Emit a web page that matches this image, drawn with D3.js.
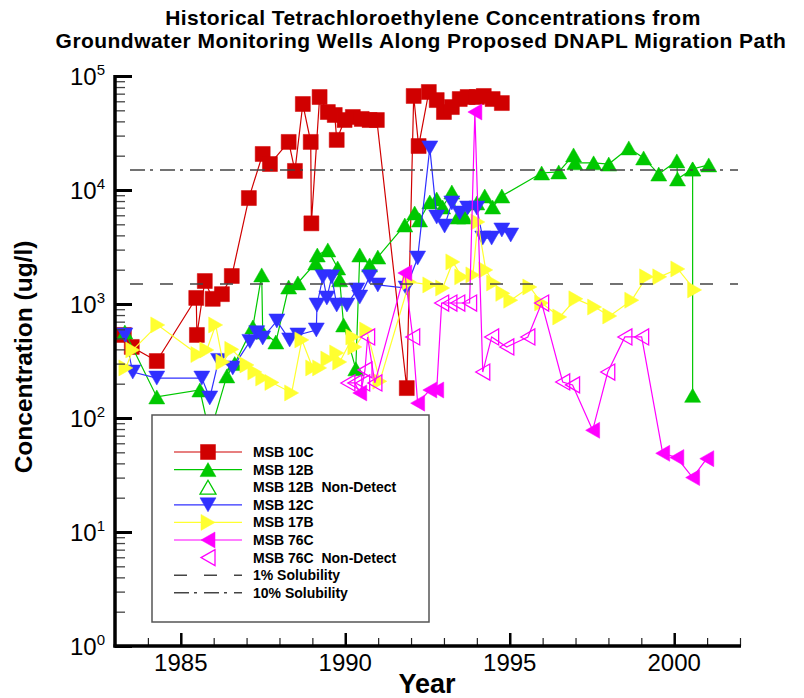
<!DOCTYPE html>
<html>
<head>
<meta charset="utf-8">
<script src="https://cdn.jsdelivr.net/npm/d3@7"></script>
<style>
  body { margin: 0; background: #fff; }
  svg { display: block; font-family: Arial, "Liberation Sans", sans-serif; }
</style>
</head>
<body>
<svg id="chart" width="804" height="698"></svg>
<script>
// ---------- Data: [year, concentration (ug/l)] ----------
const msb10c = [
  [1983.27, 535], [1983.51, 420], [1984.27, 316], [1985.47, 1130], [1985.49, 535],
  [1985.73, 1590], [1985.97, 1110], [1986.25, 1220], [1986.55, 1760], [1987.07, 8500],
  [1987.49, 20700], [1987.71, 16900], [1988.28, 26400], [1988.47, 14700], [1988.71, 56800],
  [1988.95, 26400], [1988.97, 5100], [1989.22, 65400], [1989.47, 48300], [1989.68, 45500],
  [1989.74, 27500], [1989.98, 41100], [1990.23, 43700], [1990.50, 42000], [1990.74, 41100],
  [1990.96, 41100], [1991.87, 183], [1992.08, 66800], [1992.23, 24300], [1992.54, 72400],
  [1992.78, 61500], [1993.00, 48300], [1993.24, 53400], [1993.48, 62800], [1993.72, 65400],
  [1994.00, 65400], [1994.21, 66800], [1994.48, 62800], [1994.76, 57900]
];

// 2000.56: two readings on the same date (line returns to the high value)
const msb12b = [
  [1983.30, 568], [1984.27, 153], [1985.58, 176], [1986.40, 234], [1986.64, 300],
  [1987.19, 629], [1987.46, 1800], [1987.49, 568], [1987.89, 464], [1988.28, 1410],
  [1988.56, 1530], [1989.10, 2290], [1989.15, 2690], [1989.47, 2980], [1989.77, 2070],
  [1989.83, 1630], [1989.95, 655], [1990.32, 270], [1990.44, 2690], [1990.74, 2200],
  [1990.99, 2580], [1991.81, 4930], [1992.11, 6280], [1992.26, 5460], [1992.57, 7850],
  [1992.78, 8340], [1992.96, 7090], [1993.24, 9600], [1993.42, 5790], [1993.63, 5790],
  [1994.00, 7700], [1994.24, 8860], [1994.48, 7090], [1994.76, 8860], [1995.97, 14100],
  [1996.49, 14400], [1996.94, 20300], [1996.98, 17300], [1997.55, 17300], [1998.01, 16900],
  [1998.62, 23400], [1999.07, 19100], [1999.53, 13800], [2000.08, 18000], [2000.10, 12500],
  [2000.56, 15300], [2000.56, 158], [2000.56, 15300], [2001.05, 16600]
];
const msb12bNonDetect = [[1985.88, 72]];

const msb12c = [
  [1983.30, 535], [1983.54, 253], [1984.27, 224], [1985.64, 224], [1985.88, 150],
  [1986.15, 320], [1986.58, 275], [1987.10, 470], [1987.31, 560], [1987.49, 504],
  [1987.92, 710], [1988.31, 484], [1988.56, 535], [1989.12, 592], [1989.14, 980],
  [1989.32, 1730], [1989.44, 1130], [1989.59, 1730], [1989.74, 980], [1990.05, 980],
  [1990.35, 1330], [1990.44, 1150], [1990.74, 1730], [1990.99, 1470], [1991.85, 1380],
  [1992.20, 2530], [1992.57, 23400], [1992.78, 5790], [1993.02, 4830], [1993.24, 7700],
  [1993.48, 6280], [1993.72, 6950], [1994.00, 6950], [1994.18, 3790], [1994.45, 3790],
  [1994.76, 4460], [1995.03, 4030]
];

const msb17b = [
  [1983.33, 275], [1983.54, 395], [1984.30, 655], [1985.52, 360], [1985.79, 395],
  [1986.06, 655], [1986.28, 310], [1986.55, 400], [1987.01, 292], [1987.25, 253],
  [1987.49, 224], [1987.77, 205], [1988.37, 166], [1988.68, 484], [1989.01, 275],
  [1989.22, 275], [1989.47, 329], [1989.74, 372], [1989.83, 310], [1990.23, 514],
  [1990.29, 420], [1990.65, 592], [1991.05, 210], [1991.95, 1560], [1992.57, 1470],
  [1992.96, 1380], [1993.27, 2340], [1993.54, 1730], [1993.88, 1800], [1994.03, 5240],
  [1994.27, 1990], [1994.51, 1530], [1994.79, 1240], [1995.03, 1080], [1995.61, 1410],
  [1995.97, 1020], [1996.52, 770], [1997.01, 1110], [1997.58, 940], [1998.04, 785],
  [1998.71, 1080], [1999.16, 1730], [1999.56, 1730], [2000.11, 2030], [2000.62, 1330]
];

const msb76c = [
  [1990.44, 166], [1991.81, 1870], [1992.20, 135], [1992.57, 176], [1992.78, 176],
  [1993.94, 48300], [1997.52, 78], [1999.65, 49], [2000.08, 45], [2000.56, 30], [2000.99, 44]
];
const msb76cNonDetect = [
  [1990.08, 203], [1990.29, 203], [1990.53, 203], [1990.60, 264], [1990.68, 514],
  [1990.90, 203], [1992.05, 514], [1992.93, 1020], [1993.18, 1020], [1993.42, 1020],
  [1993.78, 1020], [1994.18, 253], [1994.45, 514], [1994.91, 420], [1995.55, 514],
  [1995.97, 1020], [1996.61, 207], [1996.91, 195], [1997.98, 253], [1998.50, 514],
  [1999.01, 514]
];

const solubility1pct = 1500;
const solubility10pct = 15000;

const xTickYears = [1985, 1990, 1995, 2000];
const yTickExponents = [0, 1, 2, 3, 4, 5];

const titleLines = [
  "Historical Tetrachloroethylene Concentrations from",
  "Groundwater Monitoring Wells Along Proposed DNAPL Migration Path"
];

// ---------- Series definitions ----------
const series = [
  { name: "MSB 10C", detect: msb10c, nd: [], color: "#d00000", marker: "square" },
  { name: "MSB 12B", detect: msb12b, nd: msb12bNonDetect, color: "#00c800", marker: "up" },
  { name: "MSB 12C", detect: msb12c, nd: [], color: "#3030ff", marker: "down" },
  { name: "MSB 17B", detect: msb17b, nd: [], color: "#ffff30", marker: "right" },
  { name: "MSB 76C", detect: msb76c, nd: msb76cNonDetect, color: "#ff00ff", marker: "left" }
];

// ---------- Layout ----------
const svg = d3.select("#chart");
const x = d3.scaleLinear().domain([1983, 2002]).range([115, 740]);
const y = d3.scaleLog().domain([1, 1e5]).range([646, 76]);

function markerPath(type) {
  switch (type) {
    case "square": return "M-7.5,-7.5h15v15h-15Z";
    case "up":     return "M0,-7L8,7L-8,7Z";
    case "down":   return "M0,7L8,-7L-8,-7Z";
    case "right":  return "M7,0L-7,-8L-7,8Z";
    case "left":   return "M-7,0L7,-8L7,8Z";
  }
}

const lineGen = d3.line().x(d => x(d.p[0])).y(d => y(d.p[1]));

const plot = svg.append("g").attr("class", "plot");

series.forEach(s => {
  const merged = s.detect.map(p => ({ p, nd: false }))
    .concat(s.nd.map(p => ({ p, nd: true })))
    .sort((a, b) => a.p[0] - b.p[0]);
  const g = plot.append("g");
  g.append("path")
    .attr("d", lineGen(merged))
    .attr("fill", "none")
    .attr("stroke", s.color)
    .attr("stroke-width", 1.2);
  g.selectAll("path.m")
    .data(merged)
    .join("path")
    .attr("class", "m")
    .attr("d", markerPath(s.marker))
    .attr("transform", d => `translate(${x(d.p[0])},${y(d.p[1])})`)
    .attr("fill", d => d.nd ? "none" : s.color)
    .attr("stroke", s.color)
    .attr("stroke-width", d => d.nd ? 1.3 : 0.5);
});

// ---------- Solubility reference lines ----------
const refLines = [
  { value: solubility1pct, dash: "13,17" },
  { value: solubility10pct, dash: "15,5,3,7" }
];
svg.append("g").selectAll("line")
  .data(refLines)
  .join("line")
  .attr("x1", 130).attr("x2", 738)
  .attr("y1", d => y(d.value)).attr("y2", d => y(d.value))
  .attr("stroke", "#444")
  .attr("stroke-width", 1.6)
  .attr("stroke-dasharray", d => d.dash);

// ---------- Axes ----------
const axes = svg.append("g");
const minorYears = d3.range(1984, 2003).filter(v => !xTickYears.includes(v));

const xMajor = d3.axisBottom(x).tickValues(xTickYears).tickSize(-13).tickFormat("");
const xMinor = d3.axisBottom(x).tickValues(minorYears).tickSize(-8).tickFormat("");
const gxMinor = axes.append("g").attr("transform", "translate(0,646)").call(xMinor);
const gxMajor = axes.append("g").attr("transform", "translate(0,646)").call(xMajor);
gxMinor.selectAll("line").attr("stroke", "#222").attr("stroke-width", 1.2);
gxMajor.selectAll("line").attr("stroke", "#000").attr("stroke-width", 2.5);
[gxMinor, gxMajor].forEach(g => g.select(".domain").remove());

const yMinorVals = [];
for (let e = 0; e < 5; e++) for (let m = 2; m <= 9; m++) yMinorVals.push(m * Math.pow(10, e));
const yMajor = d3.axisLeft(y).tickValues(yTickExponents.map(e => Math.pow(10, e))).tickSize(-17).tickFormat("");
const yMinor = d3.axisLeft(y).tickValues(yMinorVals).tickSize(-10).tickFormat("");
const gyMinor = axes.append("g").attr("transform", "translate(115,0)").call(yMinor);
const gyMajor = axes.append("g").attr("transform", "translate(115,0)").call(yMajor);
gyMinor.selectAll("line").attr("stroke", "#444").attr("stroke-width", 1.3);
gyMajor.selectAll("line").attr("stroke", "#000").attr("stroke-width", 3);
[gyMinor, gyMajor].forEach(g => g.select(".domain").remove());

// axis lines
axes.append("line").attr("x1", 115).attr("x2", 115).attr("y1", 75).attr("y2", 647.5)
  .attr("stroke", "#000").attr("stroke-width", 3.5);
axes.append("line").attr("x1", 113.5).attr("x2", 741).attr("y1", 646).attr("y2", 646)
  .attr("stroke", "#000").attr("stroke-width", 3.5);

// x tick labels
const narrow = '"Liberation Sans Narrow", "Arial Narrow", Arial, sans-serif';
axes.selectAll("text.xl")
  .data(xTickYears)
  .join("text")
  .attr("class", "xl")
  .attr("x", d => x(d))
  .attr("y", 671)
  .attr("text-anchor", "middle")
  .style("font-family", narrow)
  .style("font-size", "24px")
  .text(d => d);

// y tick labels: 10 with superscript exponent
const yl = axes.selectAll("text.yl")
  .data(yTickExponents)
  .join("text")
  .attr("class", "yl")
  .attr("x", 105)
  .attr("y", d => y(Math.pow(10, d)) + 9)
  .attr("text-anchor", "end")
  .style("font-family", narrow)
  .style("font-size", "24px");
yl.append("tspan").text("10");
yl.append("tspan").attr("dy", -10).style("font-size", "15px").text(d => d);

// ---------- Titles ----------
const titleX = [433, 421];
svg.append("g").selectAll("text")
  .data(titleLines)
  .join("text")
  .attr("x", (d, i) => titleX[i])
  .attr("y", (d, i) => 25 + i * 23)
  .attr("text-anchor", "middle")
  .style("font-weight", "bold")
  .style("font-size", "21px")
  .style("letter-spacing", "0.45px")
  .text(d => d);

svg.append("text")
  .attr("x", 427).attr("y", 693)
  .attr("text-anchor", "middle")
  .style("font-weight", "bold")
  .style("font-size", "27px")
  .text("Year");

svg.append("text")
  .attr("transform", "translate(32,357) rotate(-90)")
  .attr("text-anchor", "middle")
  .style("font-weight", "bold")
  .style("font-size", "24.5px")
  .text("Concentration (ug/l)");

// ---------- Legend ----------
const legendItems = [
  { label: "MSB 10C", color: "#d00000", marker: "square", line: true },
  { label: "MSB 12B", color: "#00c800", marker: "up", line: true },
  { label: "MSB 12B  Non-Detect", color: "#00c800", marker: "up", hollow: true },
  { label: "MSB 12C", color: "#3030ff", marker: "down", line: true },
  { label: "MSB 17B", color: "#ffff30", marker: "right", line: true },
  { label: "MSB 76C", color: "#ff00ff", marker: "left", line: true },
  { label: "MSB 76C  Non-Detect", color: "#ff00ff", marker: "left", hollow: true },
  { label: "1% Solubility", color: "#444", dash: "13,17" },
  { label: "10% Solubility", color: "#444", dash: "15,5,3,7" }
];

const legend = svg.append("g");
legend.append("rect")
  .attr("x", 152).attr("y", 415).attr("width", 277).attr("height", 207)
  .attr("fill", "#fff").attr("stroke", "#555").attr("stroke-width", 1.5);

const rows = legend.selectAll("g.row")
  .data(legendItems)
  .join("g")
  .attr("class", "row")
  .attr("transform", (d, i) => `translate(0,${452 + i * 17.6})`);

rows.filter(d => d.line || d.dash)
  .append("line")
  .attr("x1", 174).attr("x2", 242)
  .attr("stroke", d => d.color)
  .attr("stroke-width", d => d.dash ? 1.6 : 1.2)
  .attr("stroke-dasharray", d => d.dash || null);

rows.filter(d => d.marker)
  .append("path")
  .attr("d", d => markerPath(d.marker))
  .attr("transform", "translate(208,0)")
  .attr("fill", d => d.hollow ? "none" : d.color)
  .attr("stroke", d => d.color)
  .attr("stroke-width", d => d.hollow ? 1.3 : 0.5);

rows.append("text")
  .attr("x", 253).attr("y", 5)
  .style("font-weight", "bold")
  .style("font-size", "14px")
  .style("white-space", "pre")
  .text(d => d.label);
</script>
</body>
</html>
